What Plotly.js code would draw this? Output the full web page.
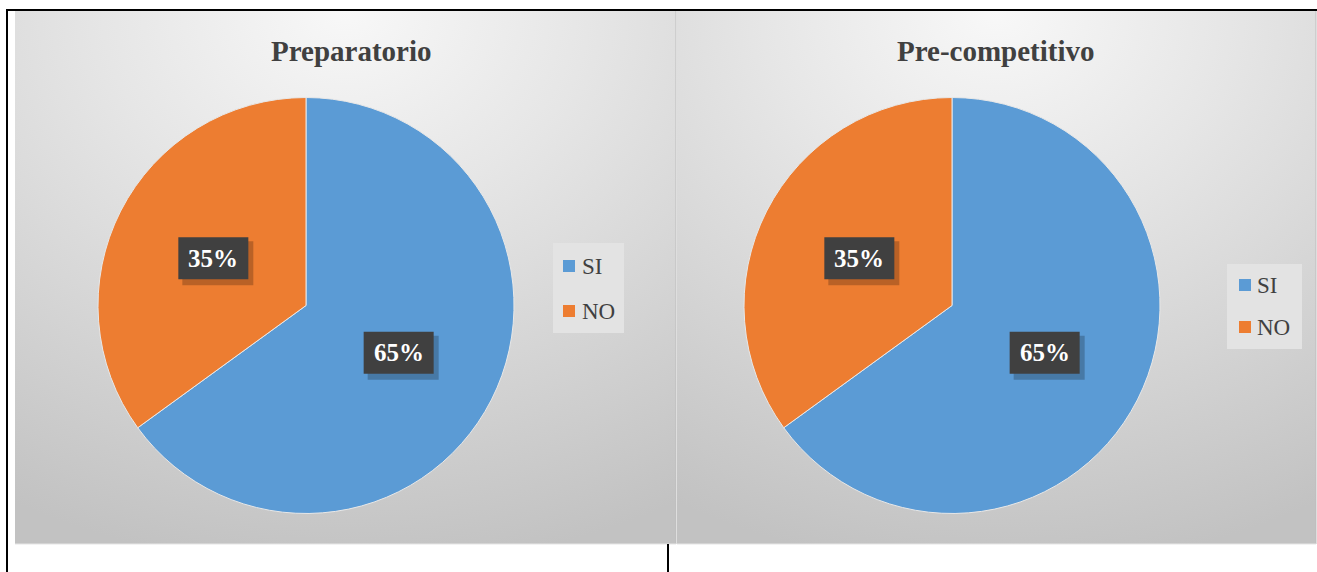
<!DOCTYPE html>
<html>
<head>
<meta charset="utf-8">
<script src="https://cdn.plot.ly/plotly-3.0.1.min.js"></script>
<style>html,body{margin:0;padding:0;background:#fff;}#chart{width:1317px;height:572px;}</style>
</head>
<body>
<div id="chart"></div>
<script>
// ---- data ----
const labels = ["SI", "NO"];
const colors = ["#5B9BD5", "#ED7D31"];
const chartTitles = ["Preparatorio", "Pre-competitivo"];
const valuesPreparatorio = [65, 35];
const valuesPrecompetitivo = [65, 35];

// ---- layout helpers ----
const W = 1317, H = 572;
const fx = x => x / W;
const fy = y => 1 - y / H;
const SERIF = "Liberation Serif";

const panels = [
  {x0: 15, x1: 676, y0: 11, y1: 544, cx: 306, cy: 305.5, r: 208, titleX: 351, values: valuesPreparatorio,
   legend: {x0: 553, x1: 624, y0: 243, y1: 333, mx: 563, ty: [266, 311], tx: 580}},
  {x0: 677, x1: 1316, y0: 11, y1: 544, cx: 952, cy: 305.5, r: 208, titleX: 996, values: valuesPrecompetitivo,
   legend: {x0: 1227, x1: 1302, y0: 264, y1: 349, mx: 1239, ty: [285, 327], tx: 1255}}
];

function gradSvg() {
  const svg = '<svg xmlns="http://www.w3.org/2000/svg" width="660" height="533" viewBox="0 0 660 533" preserveAspectRatio="none">' +
    '<defs><radialGradient id="g" cx="0.5" cy="0.0" r="1.05" gradientUnits="objectBoundingBox">' +
    '<stop offset="0" stop-color="#f8f8f8"/><stop offset="0.35" stop-color="#e6e6e6"/><stop offset="1" stop-color="#c2c2c2"/>' +
    '</radialGradient></defs><rect width="660" height="533" fill="url(#g)"/></svg>';
  return 'data:image/svg+xml;charset=utf-8,' + encodeURIComponent(svg);
}

const traces = [];
const annotations = [];
const shapes = [];
const images = [];

panels.forEach((p, i) => {
  traces.push({
    type: "pie",
    labels: labels,
    values: p.values,
    marker: {colors: colors, line: {color: "#e8e8e8", width: 1}},
    sort: false,
    direction: "clockwise",
    rotation: 0,
    textinfo: "none",
    hoverinfo: "label+percent",
    showlegend: false,
    domain: {x: [fx(p.cx - p.r), fx(p.cx + p.r)], y: [fy(p.cy + p.r), fy(p.cy - p.r)]}
  });

  images.push({
    source: gradSvg(), xref: "paper", yref: "paper",
    x: fx(p.x0), y: fy(p.y0), sizex: (p.x1 - p.x0) / W, sizey: (p.y1 - p.y0) / H,
    xanchor: "left", yanchor: "top", sizing: "stretch", layer: "below"
  });

  shapes.push({type: "line", xref: "paper", yref: "paper", x0: fx(p.x1), x1: fx(p.x1), y0: fy(p.y0), y1: fy(p.y1),
    line: {color: "#bdbdbd", width: 1}});
  shapes.push({type: "line", xref: "paper", yref: "paper", x0: fx(p.x0), x1: fx(p.x1), y0: fy(p.y1), y1: fy(p.y1),
    line: {color: "#e6e6e6", width: 1}});

  // title
  annotations.push({
    text: "<b>" + chartTitles[i] + "</b>", xref: "paper", yref: "paper",
    x: fx(p.titleX), y: fy(51), xanchor: "center", yanchor: "middle", showarrow: false,
    font: {family: SERIF, size: 29, color: "#404040"}
  });

  // data labels (boxes) at half radius on mid-angle
  const total = p.values.reduce((a, b) => a + b, 0);
  let cum = 0;
  p.values.forEach((v, k) => {
    const theta = 2 * Math.PI * (cum + v / 2) / total;
    cum += v;
    const lx = p.cx + 0.5 * p.r * Math.sin(theta);
    const ly = p.cy - 0.5 * p.r * Math.cos(theta);
    const pct = Math.round(100 * v / total) + "%";
    const bw = 35, bh = 21;
    shapes.push({type: "rect", xref: "paper", yref: "paper",
      x0: fx(lx - bw + 4), x1: fx(lx + bw + 5), y0: fy(ly + bh + 6), y1: fy(ly - bh + 4),
      fillcolor: "rgba(0,0,0,0.22)", line: {width: 0}, layer: "above"});
    shapes.push({type: "rect", xref: "paper", yref: "paper",
      x0: fx(lx - bw), x1: fx(lx + bw), y0: fy(ly + bh), y1: fy(ly - bh),
      fillcolor: "#404040", line: {width: 0}, layer: "above"});
    annotations.push({
      text: "<b>" + pct + "</b>", xref: "paper", yref: "paper",
      x: fx(lx), y: fy(ly), xanchor: "center", yanchor: "middle", showarrow: false,
      font: {family: SERIF, size: 25, color: "#ffffff"}
    });
  });

  // manual legend
  const L = p.legend;
  shapes.push({type: "rect", xref: "paper", yref: "paper", x0: fx(L.x0), x1: fx(L.x1), y0: fy(L.y1), y1: fy(L.y0),
    fillcolor: "#e3e3e3", line: {width: 0}, layer: "above"});
  labels.forEach((lab, k) => {
    shapes.push({type: "rect", xref: "paper", yref: "paper",
      x0: fx(L.mx), x1: fx(L.mx + 12), y0: fy(L.ty[k] + 6), y1: fy(L.ty[k] - 6),
      fillcolor: colors[k], line: {width: 0}, layer: "above"});
    annotations.push({
      text: lab, xref: "paper", yref: "paper", x: fx(L.tx), y: fy(L.ty[k]),
      xanchor: "left", yanchor: "middle", showarrow: false,
      font: {family: SERIF, size: 23, color: "#404040"}
    });
  });
});

// table borders
shapes.push({type: "line", xref: "paper", yref: "paper", x0: fx(6), x1: 1, y0: fy(10), y1: fy(10), line: {color: "#000", width: 2}});
shapes.push({type: "line", xref: "paper", yref: "paper", x0: fx(7), x1: fx(7), y0: fy(9), y1: 0, line: {color: "#000", width: 2}});
shapes.push({type: "line", xref: "paper", yref: "paper", x0: fx(668), x1: fx(668), y0: fy(544), y1: 0, line: {color: "#000", width: 2}});

const layout = {
  width: W, height: H,
  margin: {l: 0, r: 0, t: 0, b: 0},
  paper_bgcolor: "#ffffff",
  plot_bgcolor: "rgba(0,0,0,0)",
  showlegend: false,
  shapes: shapes,
  annotations: annotations,
  images: images
};

Plotly.newPlot("chart", traces, layout, {displayModeBar: false, staticPlot: true});
</script>
</body>
</html>
